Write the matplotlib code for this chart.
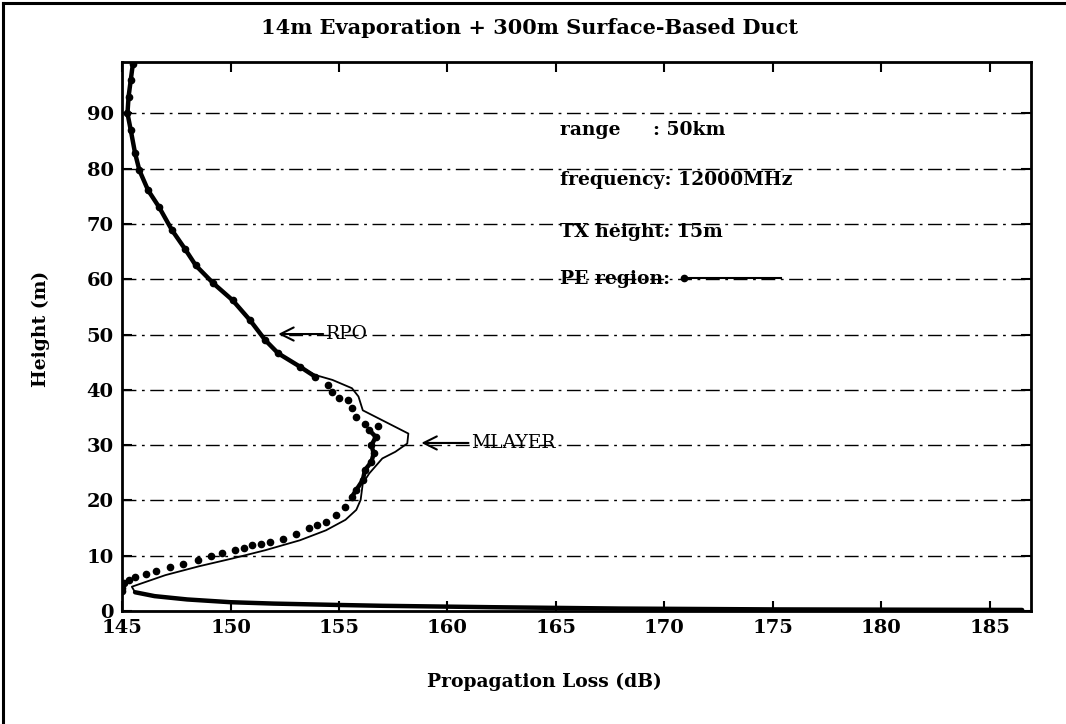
import matplotlib
matplotlib.use("Agg")
import matplotlib.pyplot as plt
import numpy as np

# ---- data (loss in dB, height in m) ----
# ground branch shared by both models
ground_loss = [186.5, 175.0, 168.0, 162.0, 157.0, 155.0, 152.0, 150.0, 148.0, 146.5, 145.6]
ground_h = [0.2, 0.3, 0.45, 0.7, 0.95, 1.1, 1.35, 1.6, 2.1, 2.7, 3.4]

# MLAYER (thin solid line)
mlayer_loss = [145.45, 147.0, 148.55, 150.08, 151.6, 153.2, 154.4, 155.3, 155.8, 156.0,
               156.1, 156.4, 157.0, 157.6, 158.15, 158.2, 157.9, 157.0, 156.1, 155.9,
               155.6, 154.7, 153.9, 153.2, 152.2, 151.6, 150.9, 150.1, 149.2, 148.4,
               147.9, 147.3, 146.7, 146.2, 145.8, 145.6, 145.4, 145.25, 145.3, 145.4, 145.5]
mlayer_h = [4.4, 6.5, 8.1, 9.5, 11.0, 12.8, 14.6, 16.5, 18.3, 20.1,
            23.1, 24.9, 27.6, 28.8, 30.3, 32.1, 32.7, 34.5, 36.3, 38.8,
            40.3, 41.8, 42.7, 44.2, 46.6, 49.0, 52.6, 56.2, 59.3, 62.5,
            65.5, 68.9, 73.1, 76.1, 79.7, 82.8, 87.0, 90.0, 93.0, 96.0, 99.0]

# RPO (dotted)
rpo_loss = [145.0, 145.0, 145.1, 145.3, 145.6, 146.1, 146.55, 147.2, 147.8, 148.5,
            149.1, 149.6, 150.2, 150.6, 151.0, 151.4, 151.8, 152.4, 153.0, 153.6,
            154.0, 154.4, 154.85, 155.3, 155.6, 155.8, 156.1, 156.2, 156.5, 156.6,
            156.5, 156.7, 156.4, 156.2, 156.8, 155.8, 155.6, 155.0, 155.4, 154.7,
            154.5, 153.9, 153.2, 152.2, 151.6, 150.9, 150.1, 149.2, 148.4, 147.9,
            147.3, 146.7, 146.2, 145.8, 145.6, 145.4, 145.25, 145.3, 145.4, 145.5]
rpo_h = [3.6, 4.2, 5.0, 5.7, 6.2, 6.7, 7.3, 7.9, 8.6, 9.3,
         9.9, 10.5, 11.0, 11.4, 11.9, 12.2, 12.5, 13.1, 14.0, 15.0,
         15.5, 16.1, 17.4, 18.9, 20.7, 21.9, 23.7, 25.5, 27.0, 28.5,
         30.0, 31.5, 32.7, 33.9, 33.4, 35.1, 36.7, 38.6, 38.2, 39.7,
         40.9, 42.4, 44.2, 46.6, 49.0, 52.6, 56.2, 59.3, 62.5, 65.5,
         68.9, 73.1, 76.1, 79.7, 82.8, 87.0, 90.0, 93.0, 96.0, 99.0]

x_ticks = [145, 150, 155, 160, 165, 170, 175, 180, 185]
y_ticks = [0, 10, 20, 30, 40, 50, 60, 70, 80, 90]

info_lines = ["range     : 50km", "frequency: 12000MHz", "TX height: 15m", "PE region:"]
info_h = [87.0, 78.0, 68.6, 60.0]

plt.rcParams['font.family'] = ['DejaVu Serif']

fig = plt.figure(figsize=(10.66, 7.24), dpi=100)
ax = fig.add_axes([0.1145, 0.156, 0.8525, 0.7584])

# grid: dash-dot horizontal only
for yv in y_ticks[1:]:
    ax.axhline(yv, color='black', lw=1.0, ls=(0, (10, 4, 2, 4)), zorder=1)

# ground branch
ax.plot(ground_loss, ground_h, color='black', lw=3.2, solid_capstyle='round', zorder=3)

# MLAYER thin line (joined with ground branch)
ax.plot([ground_loss[-1]] + mlayer_loss, [ground_h[-1]] + mlayer_h, color='black', lw=1.3, zorder=3)

# RPO: dots, merging into a thick trace where the profile is steep
rpo_loss = np.array(rpo_loss)
rpo_h = np.array(rpo_h)
ax.plot(rpo_loss, rpo_h, 'o', color='black', ms=4.5, zorder=4)
steep = (rpo_h >= 42) | ((rpo_h >= 20) & (rpo_h <= 33))
seg_id = np.cumsum(np.r_[1, np.diff(steep.astype(int)) != 0])
for s in np.unique(seg_id[steep]):
    m = seg_id == s
    ax.plot(rpo_loss[m], rpo_h[m], color='black', lw=3.2, solid_capstyle='round', zorder=4)

ax.set_xlim(145, 186.9)
ax.set_ylim(0, 99.3)
ax.set_xticks(x_ticks)
ax.set_yticks(y_ticks)
ax.tick_params(direction='in', length=7, width=1.5, top=True, right=True,
               labelsize=14, pad=6)
for lab in ax.get_xticklabels() + ax.get_yticklabels():
    lab.set_fontweight('bold')
for sp in ax.spines.values():
    sp.set_linewidth(2)

# info block
for txt, yv in zip(info_lines, info_h):
    ax.text(165.2, yv, txt, fontsize=13.5, fontweight='bold', va='center', ha='left', zorder=5)
ax.plot([170.9, 175.4], [60.2, 60.2], color='black', lw=1.5, zorder=5)
ax.plot([170.9], [60.2], 'o', color='black', ms=4.5, zorder=5)

# curve labels
arrow = dict(arrowstyle='->, head_length=0.7, head_width=0.35', lw=1.5, color='black',
             shrinkA=0, shrinkB=0)
ax.annotate('RPO', xy=(152.2, 50.1), xytext=(154.4, 50.1), fontsize=13.5,
            va='center', ha='left', arrowprops=arrow)
ax.annotate('MLAYER', xy=(158.8, 30.4), xytext=(161.1, 30.4), fontsize=13.5,
            va='center', ha='left', arrowprops=arrow)

fig.text(0.497, 0.961, '14m Evaporation + 300m Surface-Based Duct', fontsize=15,
         fontweight='bold', ha='center', va='center')
fig.text(0.511, 0.058, 'Propagation Loss (dB)', fontsize=13.5, fontweight='bold',
         ha='center', va='center')
fig.text(0.038, 0.545, 'Height (m)', fontsize=13.5, fontweight='bold', rotation=90,
         ha='center', va='center')

# scanned page frame (left and top edges)
fig.add_artist(plt.Line2D([0.003, 0.003], [0.0, 0.996], color='black', lw=2.2,
                          transform=fig.transFigure))
fig.add_artist(plt.Line2D([0.003, 1.0], [0.996, 0.996], color='black', lw=2.2,
                          transform=fig.transFigure))

fig.savefig('out.png', dpi=100)
